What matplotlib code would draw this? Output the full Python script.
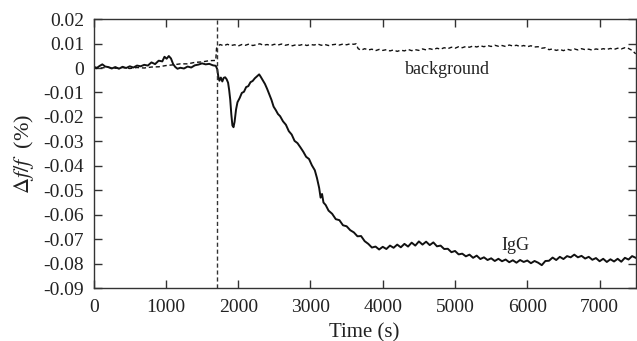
import matplotlib
matplotlib.use("Agg")
import matplotlib.pyplot as plt
from matplotlib.ticker import FixedLocator, FixedFormatter

plt.rcParams['font.family'] = ['Liberation Serif', 'DejaVu Serif']
plt.rcParams['mathtext.fontset'] = 'stix'

# IgG signal (time in s, delta f/f in units of 0.001 %)
igg_t = [0, 40, 80, 120, 160, 200, 250, 300, 350, 400, 450, 500, 550, 600, 650, 700, 750, 800,
         850, 900, 950, 980, 1010, 1040, 1070, 1100, 1130, 1160, 1200, 1250, 1300, 1350, 1400,
         1450, 1500, 1550, 1600, 1650, 1690, 1710, 1725, 1740, 1760, 1780, 1800, 1820, 1840,
         1860, 1875, 1890, 1905, 1920, 1935, 1950, 1970, 1990, 2020, 2050, 2080, 2110, 2140,
         2170, 2200, 2230, 2260, 2290, 2310, 2340, 2370, 2400, 2430, 2460, 2490, 2520, 2550,
         2580, 2620, 2660, 2700, 2740, 2780, 2820, 2860, 2900, 2940, 2980, 3020, 3060, 3090,
         3120, 3140, 3160, 3180, 3210, 3250, 3300, 3350, 3400, 3450, 3500, 3550, 3600, 3650,
         3700, 3750, 3800, 3850, 3900, 3950, 4000, 4050, 4100, 4150, 4200, 4250, 4300, 4350,
         4400, 4450, 4500, 4550, 4600, 4650, 4700, 4750, 4800, 4850, 4900, 4950, 5000, 5050,
         5100, 5150, 5200, 5250, 5300, 5350, 5400, 5450, 5500, 5550, 5600, 5650, 5700, 5750,
         5800, 5850, 5900, 5950, 6000, 6050, 6100, 6150, 6200, 6250, 6300, 6350, 6400, 6450,
         6500, 6550, 6600, 6650, 6700, 6750, 6800, 6850, 6900, 6950, 7000, 7050, 7100, 7150,
         7200, 7250, 7300, 7350, 7400, 7450, 7500]
igg_v = [0.5, -0.1, 0.8, 1.5, 0.6, 0.4, -0.2, 0.4, -0.3, 0.5, 0.0, 0.7, 0.2, 1.0, 0.7, 1.3, 1.0, 2.3,
         1.6, 3.0, 2.7, 4.6, 3.8, 4.9, 3.9, 1.6, 0.4, -0.3, 0.1, -0.2, 0.6, 0.2, 1.1,
         1.4, 1.9, 1.5, 1.7, 1.1, 0.9, -0.5, -3.5, -5.2, -3.9, -5.5, -4.0, -3.8, -4.6,
         -6.0, -9.0, -13.0, -19.0, -23.5, -24.2, -22.0, -17.0, -14.0, -12.3, -10.2, -9.7, -7.8, -7.4,
         -5.8, -5.3, -4.2, -3.4, -2.6, -3.5, -5.0, -6.5, -8.5, -10.8, -13.0, -15.8, -17.2, -18.8,
         -19.7, -21.8, -23.2, -25.8, -27.2, -29.8, -30.7, -32.4, -34.2, -36.3, -37.2, -39.8, -41.8, -45.0,
         -49.0, -53.0, -51.5, -55.0, -56.0, -58.3, -59.6, -61.8, -62.2, -64.3, -64.7, -66.3, -67.2, -68.8,
         -68.7, -70.8, -71.9, -73.4, -73.0, -74.2, -73.1, -74.0, -72.6, -73.5, -72.2, -73.3, -71.9, -73.0,
         -71.4, -72.6, -70.9, -72.2, -71.0, -72.4, -71.3, -72.9, -72.6, -74.0, -73.9, -75.3, -74.8, -76.2,
         -75.9, -77.0, -76.3, -77.6, -76.7, -78.1, -77.4, -78.5, -77.8, -78.9, -78.0, -79.0, -78.3, -79.4,
         -78.6, -79.6, -78.5, -79.3, -78.7, -79.8, -78.9, -79.6, -80.6, -78.9, -78.8, -77.5, -78.5, -77.2,
         -78.1, -76.9, -77.4, -76.3, -77.4, -76.8, -77.9, -77.2, -78.4, -77.7, -79.0, -78.0, -79.3, -78.2,
         -79.1, -78.0, -79.2, -77.6, -78.3, -76.9, -77.6]

# background signal (time in s, delta f/f in units of 0.001 %)
bg_t = [0, 100, 200, 300, 400, 500, 600, 700, 800, 900, 1000, 1100, 1200, 1300, 1400, 1500, 1600,
        1690, 1700, 1720, 1750, 1800, 1850, 1900, 1950, 2000, 2050, 2100, 2150, 2200, 2250, 2300,
        2350, 2400, 2450, 2500, 2550, 2600, 2650, 2700, 2750, 2800, 2850, 2900, 2950, 3000, 3050,
        3100, 3150, 3200, 3250, 3300, 3350, 3400, 3450, 3500, 3550, 3600, 3630, 3660, 3700, 3750,
        3800, 3850, 3900, 3950, 4000, 4050, 4100, 4150, 4200, 4250, 4300, 4350, 4400, 4450, 4500,
        4550, 4600, 4650, 4700, 4750, 4800, 4850, 4900, 4950, 5000, 5050, 5100, 5150, 5200, 5250,
        5300, 5350, 5400, 5450, 5500, 5550, 5600, 5650, 5700, 5750, 5800, 5850, 5900, 5950, 6000,
        6050, 6100, 6150, 6200, 6250, 6300, 6350, 6400, 6450, 6500, 6550, 6600, 6650, 6700, 6750,
        6800, 6850, 6900, 6950, 7000, 7050, 7100, 7150, 7200, 7250, 7300, 7350, 7400, 7450, 7500]
bg_v = [0.4, 0.0, 0.3, -0.1, 0.2, -0.2, 0.2, 0.0, 0.4, 0.5, 1.0, 1.3, 1.7, 1.7, 2.3, 2.5, 3.0,
        3.1, 8.0, 9.0, 9.6, 9.1, 9.7, 9.2, 9.5, 9.0, 9.6, 9.3, 9.8, 9.2, 9.5, 9.9,
        9.3, 9.6, 9.2, 9.7, 9.4, 9.8, 9.3, 9.6, 9.1, 9.5, 9.3, 9.7, 9.2, 9.6, 9.4,
        9.8, 9.3, 9.6, 9.2, 9.5, 9.7, 9.4, 9.8, 9.5, 9.9, 9.7, 9.9, 7.9, 7.3, 7.9,
        7.4, 7.7, 7.1, 7.6, 7.2, 7.5, 7.0, 7.4, 6.8, 7.3, 7.0, 7.6, 7.1, 7.5, 7.2,
        7.8, 7.4, 7.9, 7.5, 8.1, 7.7, 8.3, 7.9, 8.5, 8.1, 8.7, 8.3, 8.8, 8.5, 9.0,
        8.6, 9.1, 8.7, 9.2, 8.8, 9.3, 8.9, 9.2, 8.8, 9.4, 9.0, 9.3, 8.8, 9.2, 8.7,
        9.1, 8.6, 8.7, 8.1, 8.3, 7.5, 7.8, 7.2, 7.6, 7.1, 7.7, 7.3, 7.8, 7.4, 7.9,
        7.5, 7.7, 7.3, 7.8, 7.5, 7.9, 7.6, 8.0, 7.6, 8.1, 7.8, 8.3, 8.0, 7.2, 5.8]

injection_t = 1700

y_ticks = [0.02, 0.01, 0.0, -0.01, -0.02, -0.03, -0.04, -0.05, -0.06, -0.07, -0.08, -0.09]
y_labels = ['0.02', '0.01', '0', '-0.01', '-0.02', '-0.03', '-0.04', '-0.05', '-0.06', '-0.07', '-0.08', '-0.09']
x_ticks = [0, 1000, 2000, 3000, 4000, 5000, 6000, 7000]
x_labels = ['0', '1000', '2000', '3000', '4000', '5000', '6000', '7000']

fig = plt.figure(figsize=(6.37, 3.41), dpi=100)
ax = fig.add_axes([0.147, 0.155, 0.851, 0.789])

ax.plot(igg_t, [v / 1000 for v in igg_v], color='#111111', lw=1.4)
ax.plot(bg_t, [v / 1000 for v in bg_v], color='#111111', lw=1.0, dashes=(3, 2))
ax.axvline(injection_t, color='#333333', lw=1.0, dashes=(3, 2))

ax.set_xlim(0, 7500)
ax.set_ylim(-0.09, 0.02)
ax.yaxis.set_major_locator(FixedLocator(y_ticks))
ax.yaxis.set_major_formatter(FixedFormatter(y_labels))
ax.xaxis.set_major_locator(FixedLocator(x_ticks))
ax.xaxis.set_major_formatter(FixedFormatter(x_labels))
ax.tick_params(direction='in', top=True, right=True, length=6, width=1, labelsize=14,
               colors='#333333', labelcolor='#222222')
ax.tick_params(axis='y', pad=7)
ax.tick_params(axis='x', pad=8)
for s in ax.spines.values():
    s.set_linewidth(1.0)
    s.set_color('#333333')

ax.set_xlabel('Time (s)', fontsize=15, labelpad=5, color='#222222')
ax.set_ylabel(r'$\Delta f/f$  (%)', fontsize=16, labelpad=5, color='#222222')

ax.text(4900, -0.0008, 'background', fontsize=13, ha='center', va='center', color='#222222')
ax.text(5830, -0.0725, 'IgG', fontsize=13, ha='center', va='center', color='#222222')

fig.savefig('out.png', dpi=100)
